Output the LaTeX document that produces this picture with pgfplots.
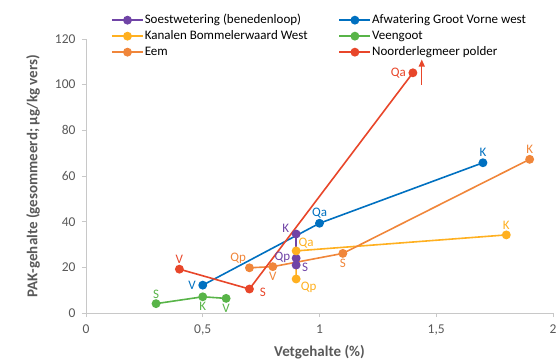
\documentclass[border=0pt]{standalone}
\usepackage{pgfplots}
\pgfplotsset{compat=1.18}
\usepackage{fontspec}
\setmainfont{Carlito}
\usetikzlibrary{arrows.meta}
\definecolor{cpur}{RGB}{112,68,166}
\definecolor{cblu}{RGB}{0,112,192}
\definecolor{cyel}{RGB}{255,176,32}
\definecolor{cgrn}{RGB}{88,180,72}
\definecolor{cora}{RGB}{240,134,58}
\definecolor{cred}{RGB}{232,70,42}
\definecolor{txtg}{RGB}{89,89,89}
\definecolor{axg}{RGB}{200,200,200}
\begin{document}
\begin{tikzpicture}
\path[use as bounding box] (-86bp,-46bp) rectangle (471bp,313bp);
\begin{axis}[
  at={(0,0)}, anchor=south west,
  scale only axis, width=467bp, height=274bp,
  xmin=0, xmax=2, ymin=0, ymax=120,
  axis x line*=bottom, axis y line*=left,
  axis line style={draw=axg, line width=0.8bp, -},
  tick style={draw=axg, line width=0.8bp},
  tick align=outside, major tick length=4bp,
  xtick={0,0.5,1,1.5,2}, xticklabels={0,{0,5},1,{1,5},2},
  ytick={0,20,40,60,80,100,120},
  ticklabel style={font=\fontsize{13.5bp}{15bp}\selectfont, text=txtg},
  /pgf/number format/assume math mode=true,
  xticklabel style={yshift=-4bp},
  yticklabel style={xshift=-3bp},
  xlabel={\bfseries Vetgehalte (\%)},
  ylabel={\bfseries PAK-gehalte (gesommeerd; µg/kg vers)},
  label style={font=\fontsize{15bp}{17bp}\selectfont, text=txtg},
  xlabel style={at={(axis description cs:0.5,-0.1423)}, anchor=center},
  ylabel style={at={(axis description cs:-0.1135,0.5)}, anchor=center},
  clip=false,
  every axis plot/.append style={line width=1.6bp, mark=*, mark size=3.6bp},
  legend columns=2,
  legend cell align=left,
  legend style={at={(axis description cs:0.0535,1.095)}, anchor=north west,
    draw=none, fill=none, inner sep=0pt,
    font=\fontsize{13bp}{15bp}\selectfont,
    nodes={inner sep=1bp, text=black, text height=9bp, text depth=3bp},
    row sep=2bp,
    /tikz/every even column/.append style={column sep=30bp}},
  legend image code/.code={\draw[mark repeat=2,mark phase=2,#1] plot coordinates {(0bp,0bp)(15.5bp,0bp)(31bp,0bp)};},
]
\addplot[color=cpur, mark options={fill=cpur}] coordinates {(0.9,34.6) (0.9,24.0) (0.9,21.0)};
\addlegendentry{Soestwetering (benedenloop)}
\addplot[color=cblu, mark options={fill=cblu}] coordinates {(0.5,12.2) (1.0,39.3) (1.7,65.8)};
\addlegendentry{Afwatering Groot Vorne west}
\addplot[color=cyel, mark options={fill=cyel}] coordinates {(0.9,14.9) (0.9,27.2) (1.8,34.2)};
\addlegendentry{Kanalen Bommelerwaard West}
\addplot[color=cgrn, mark options={fill=cgrn}] coordinates {(0.3,4.1) (0.5,7.1) (0.6,6.4)};
\addlegendentry{Veengoot}
\addplot[color=cora, mark options={fill=cora}] coordinates {(0.7,19.8) (0.8,20.3) (1.1,26.1) (1.9,67.3)};
\addlegendentry{Eem}
\addplot[color=cred, mark options={fill=cred}] coordinates {(0.4,19.2) (0.7,10.5) (1.4,105.2)};
\addlegendentry{Noorderlegmeer polder}
\addplot[color=cred, mark=none, line width=1.2bp, -{Triangle[width=6bp,length=7bp]}, forget plot] coordinates {(1.438,100) (1.438,111)};
% point labels
\tikzset{pl/.style={font=\fontsize{13bp}{15bp}\selectfont, inner sep=1bp}}
\node[pl, text=cpur, anchor=south east] at (axis cs:0.875,34.6) {K};
\node[pl, text=cpur, anchor=east] at (axis cs:0.88,24.4) {Qp};
\node[pl, text=cpur, anchor=west] at (axis cs:0.92,20.0) {S};
\node[pl, text=cyel, anchor=south west] at (axis cs:0.905,28.0) {Qa};
\node[pl, text=cyel, anchor=north west] at (axis cs:0.915,14.2) {Qp};
\node[pl, text=cyel, anchor=south] at (axis cs:1.8,36.0) {K};
\node[pl, text=cblu, anchor=east] at (axis cs:0.475,12.2) {V};
\node[pl, text=cblu, anchor=south] at (axis cs:1.0,41.2) {Qa};
\node[pl, text=cblu, anchor=south] at (axis cs:1.7,67.8) {K};
\node[pl, text=cora, anchor=south east] at (axis cs:0.69,21.0) {Qp};
\node[pl, text=cora, anchor=north] at (axis cs:0.8,18.3) {V};
\node[pl, text=cora, anchor=north] at (axis cs:1.1,24.0) {S};
\node[pl, text=cora, anchor=south] at (axis cs:1.9,69.2) {K};
\node[pl, text=cgrn, anchor=south] at (axis cs:0.3,6.0) {S};
\node[pl, text=cgrn, anchor=north] at (axis cs:0.5,5.2) {K};
\node[pl, text=cgrn, anchor=north] at (axis cs:0.6,4.5) {V};
\node[pl, text=cred, anchor=south] at (axis cs:0.4,21.2) {V};
\node[pl, text=cred, anchor=west] at (axis cs:0.74,9.0) {S};
\node[pl, text=cred, anchor=east] at (axis cs:1.375,105.2) {Qa};
\end{axis}
\end{tikzpicture}
\end{document}
